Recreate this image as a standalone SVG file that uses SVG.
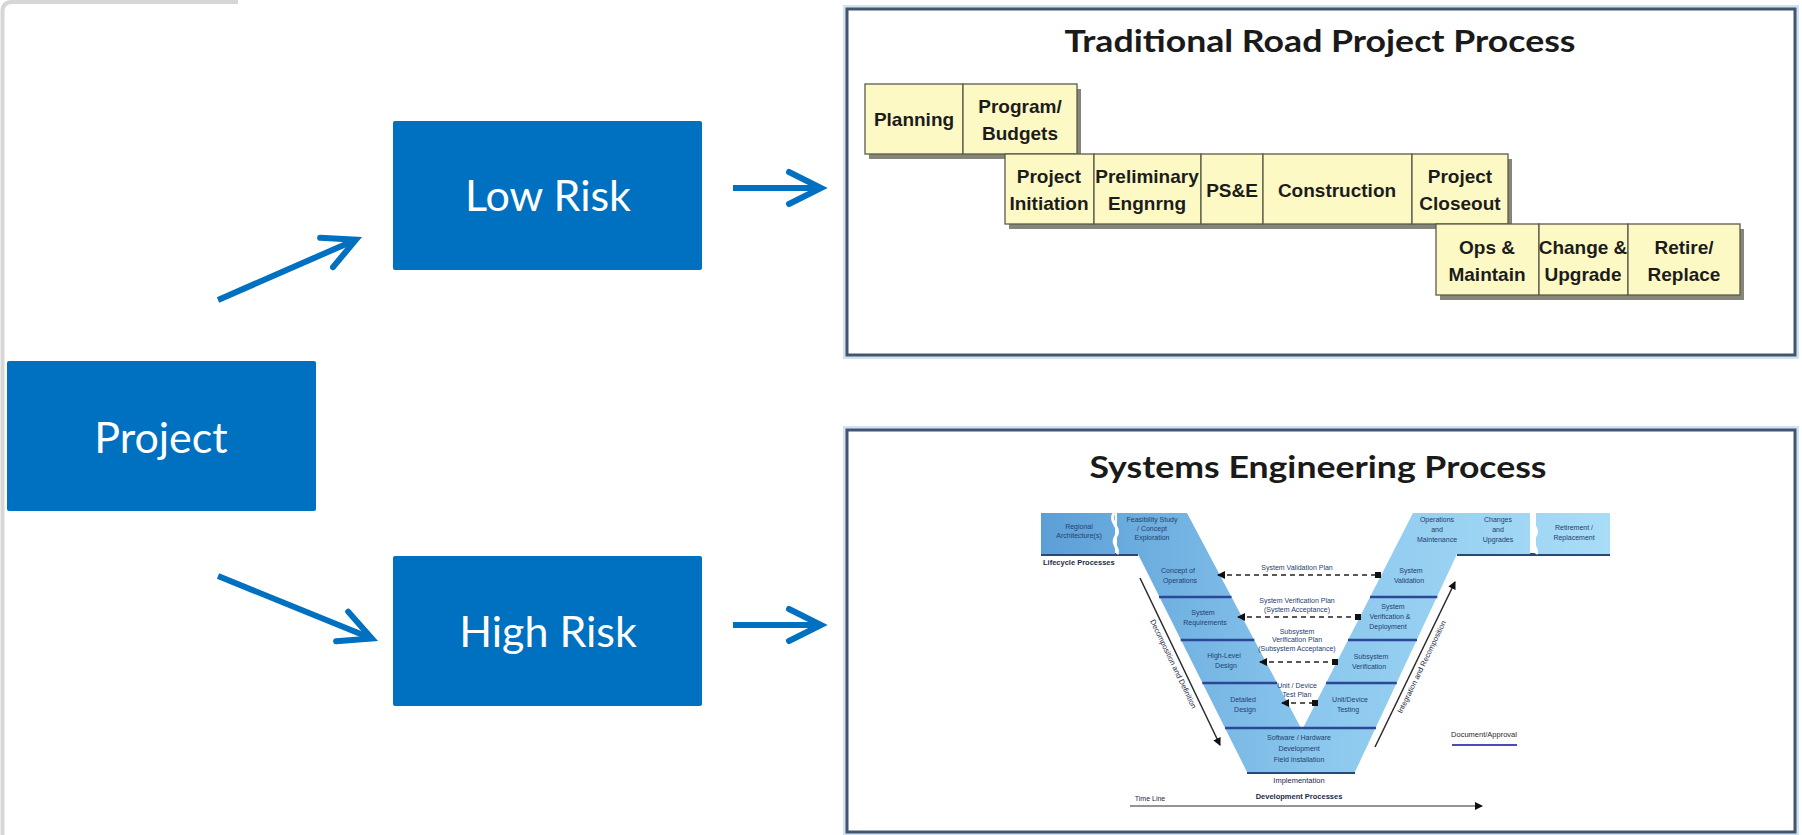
<svg xmlns="http://www.w3.org/2000/svg" width="1802" height="835" viewBox="0 0 1802 835">
<defs>
<style>
.blue{fill:#0070C0}
.lbl{font-family:Lato,"Open Sans",sans-serif;font-size:43px;fill:#ffffff;text-anchor:middle}
.conn{stroke:#0070C0;stroke-width:6;fill:none;marker-end:url(#chev)}
.panel{fill:#ffffff;stroke:#46556f;stroke-width:3}
.panelglow{fill:none;stroke:#cfe3f3;stroke-width:6}
.gbox{fill:#fcf9c4;stroke:#5b5b4c;stroke-width:1.3}
.gshadow{fill:#85857a}
.gt{font-family:"Liberation Sans",Arial,sans-serif;font-weight:bold;font-size:19px;fill:#1c1c1c;text-anchor:middle}
.title{font-family:Lato,"Open Sans",sans-serif;font-weight:bold;font-size:31px;fill:#1a1a1a;text-anchor:middle}
.vt{font-family:"Liberation Sans",Arial,sans-serif;font-size:7px;fill:#24406e;text-anchor:middle}
.vb{font-family:"Liberation Sans",Arial,sans-serif;font-size:7.5px;font-weight:bold;fill:#1c2a44}
.div{stroke:#2b4796;stroke-width:2.5}
.dash{stroke:#222222;stroke-width:1.4;stroke-dasharray:5 4;fill:none;marker-start:url(#sa);marker-end:url(#dot)}
.thin{stroke:#2a2a2a;stroke-width:1.5;fill:none;marker-end:url(#sa2)}
</style>
<marker id="chev" markerUnits="userSpaceOnUse" markerWidth="50" markerHeight="44" viewBox="0 0 50 44" refX="36" refY="20" orient="auto" overflow="visible">
<path d="M4,4 L36,20 L4,36" fill="none" stroke="#0070C0" stroke-width="6" stroke-linecap="round" stroke-linejoin="miter"/>
</marker>
<marker id="sa" markerUnits="userSpaceOnUse" markerWidth="8" markerHeight="8" viewBox="0 0 8 8" refX="1" refY="4" orient="auto">
<path d="M8,0 L0,4 L8,8 Z" fill="#111"/>
</marker>
<marker id="sa2" markerUnits="userSpaceOnUse" markerWidth="8" markerHeight="8" viewBox="0 0 8 8" refX="7" refY="4" orient="auto">
<path d="M0,0 L8,4 L0,8 Z" fill="#111"/>
</marker>
<marker id="dot" markerUnits="userSpaceOnUse" markerWidth="6" markerHeight="6" viewBox="0 0 6 6" refX="3" refY="3" orient="auto">
<rect x="0" y="0" width="6" height="6" fill="#111"/>
</marker>
<linearGradient id="vg" gradientUnits="userSpaceOnUse" x1="1040" y1="0" x2="1612" y2="0">
<stop offset="0" stop-color="#5b9fd7"/>
<stop offset="0.5" stop-color="#8cc8ee"/>
<stop offset="1" stop-color="#a9ddf6"/>
</linearGradient>
</defs>

<rect x="0" y="0" width="1802" height="835" fill="#ffffff"/>
<path d="M2.5,835 L2.5,12 Q2.5,2 12,2 L238,2" fill="none" stroke="#d6d6d6" stroke-width="4"/>

<g id="connectors">
<line class="conn" x1="218" y1="300" x2="355.9" y2="239.7"/>
<line class="conn" x1="218" y1="576" x2="371.8" y2="638.5"/>
<line class="conn" x1="733" y1="188" x2="821" y2="188"/>
<line class="conn" x1="733" y1="625" x2="821" y2="625"/>
</g>

<g id="project">
<rect class="blue" x="7" y="361" width="309" height="150" rx="2"/>
<text class="lbl" x="161" y="453">Project</text>
</g>
<g id="low-risk">
<rect class="blue" x="393" y="121" width="309" height="149" rx="2"/>
<text class="lbl" x="548" y="211">Low Risk</text>
</g>
<g id="high-risk">
<rect class="blue" x="393" y="556" width="309" height="150" rx="2"/>
<text class="lbl" x="548" y="647">High Risk</text>
</g>

<g id="traditional-process">
<rect class="panelglow" x="846" y="8" width="950" height="348"/>
<rect class="panel" x="847" y="9" width="948" height="346"/>
<text class="title" x="1320" y="52" textLength="511" lengthAdjust="spacingAndGlyphs">Traditional Road Project Process</text>
<rect class="gshadow" x="869" y="89" width="212" height="70"/>
<rect class="gshadow" x="1009" y="159" width="503" height="70"/>
<rect class="gshadow" x="1440" y="229" width="304" height="71"/>
<rect class="gbox" x="865" y="84" width="98" height="70"/>
<rect class="gbox" x="963" y="84" width="114" height="70"/>
<rect class="gbox" x="1005" y="154" width="89" height="70"/>
<rect class="gbox" x="1094" y="154" width="107" height="70"/>
<rect class="gbox" x="1201" y="154" width="62" height="70"/>
<rect class="gbox" x="1263" y="154" width="149" height="70"/>
<rect class="gbox" x="1412" y="154" width="96" height="70"/>
<rect class="gbox" x="1436" y="224" width="103" height="71"/>
<rect class="gbox" x="1539" y="224" width="89" height="71"/>
<rect class="gbox" x="1628" y="224" width="112" height="71"/>
<text class="gt" x="914" y="126">Planning</text>
<text class="gt" x="1020" y="113">Program/</text>
<text class="gt" x="1020" y="140">Budgets</text>
<text class="gt" x="1049" y="183">Project</text>
<text class="gt" x="1049" y="210">Initiation</text>
<text class="gt" x="1147" y="183">Preliminary</text>
<text class="gt" x="1147" y="210">Engnrng</text>
<text class="gt" x="1232" y="197">PS&amp;E</text>
<text class="gt" x="1337" y="197">Construction</text>
<text class="gt" x="1460" y="183">Project</text>
<text class="gt" x="1460" y="210">Closeout</text>
<text class="gt" x="1487" y="254">Ops &amp;</text>
<text class="gt" x="1487" y="281">Maintain</text>
<text class="gt" x="1583" y="254">Change &amp;</text>
<text class="gt" x="1583" y="281">Upgrade</text>
<text class="gt" x="1684" y="254">Retire/</text>
<text class="gt" x="1684" y="281">Replace</text>
</g>

<g id="systems-engineering">
<rect class="panelglow" x="846" y="429" width="950" height="405"/>
<rect class="panel" x="847" y="430" width="948" height="402"/>
<text class="title" x="1318" y="478" textLength="457" lengthAdjust="spacingAndGlyphs">Systems Engineering Process</text>

<rect x="1041" y="553" width="97" height="3" fill="#27487a"/>
<rect x="1457" y="553" width="153" height="3" fill="#27487a"/>
<rect x="1247" y="771" width="108" height="3" fill="#27487a"/>
<rect x="1041" y="513" width="74" height="41" fill="url(#vg)"/>
<path d="M1117,513 L1187,513 L1302,730 L1413,513 L1530,513 L1530,554 L1457,554 L1355,772 L1247,772 L1138,554 L1117,554 Z" fill="url(#vg)"/>
<rect x="1536" y="513" width="74" height="41" fill="url(#vg)"/>
<path d="M1114,513 C1108,522 1122,528 1116,536 C1110,544 1120,548 1117,554" fill="none" stroke="#ffffff" stroke-width="3"/>
<path d="M1533,513 C1527,522 1541,528 1535,536 C1529,544 1539,548 1536,554" fill="none" stroke="#ffffff" stroke-width="3"/>

<line class="div" x1="1159" y1="597" x2="1231.5" y2="597"/>
<line class="div" x1="1180.7" y1="640" x2="1254.3" y2="640"/>
<line class="div" x1="1202.3" y1="683" x2="1277.1" y2="683"/>
<line class="div" x1="1225" y1="728" x2="1376" y2="728"/>
<line class="div" x1="1370" y1="597" x2="1437.3" y2="597"/>
<line class="div" x1="1348" y1="640" x2="1417" y2="640"/>
<line class="div" x1="1326" y1="683" x2="1396.8" y2="683"/>

<text class="vt" x="1079" y="529">Regional<tspan x="1079" dy="9">Architecture(s)</tspan></text>
<text class="vt" x="1152" y="522">Feasibility Study<tspan x="1152" dy="9">/ Concept</tspan><tspan x="1152" dy="9">Exploration</tspan></text>
<text class="vt" x="1178" y="573">Concept of<tspan x="1180" dy="10">Operations</tspan></text>
<text class="vt" x="1203" y="615">System<tspan x="1205" dy="10">Requirements</tspan></text>
<text class="vt" x="1224" y="658">High-Level<tspan x="1226" dy="10">Design</tspan></text>
<text class="vt" x="1243" y="702">Detailed<tspan x="1245" dy="10">Design</tspan></text>
<text class="vt" x="1299" y="740">Software / Hardware<tspan x="1299" dy="11">Development</tspan><tspan x="1299" dy="11">Field Installation</tspan></text>
<text class="vt" x="1299" y="783" style="font-size:7.5px;fill:#1c2a44">Implementation</text>
<text class="vt" x="1437" y="522">Operations<tspan x="1437" dy="10">and</tspan><tspan x="1437" dy="10">Maintenance</tspan></text>
<text class="vt" x="1498" y="522">Changes<tspan x="1498" dy="10">and</tspan><tspan x="1498" dy="10">Upgrades</tspan></text>
<text class="vt" x="1574" y="530">Retirement /<tspan x="1574" dy="10">Replacement</tspan></text>
<text class="vt" x="1411" y="573">System<tspan x="1409" dy="10">Validation</tspan></text>
<text class="vt" x="1393" y="609">System<tspan x="1390" dy="10">Verification &amp;</tspan><tspan x="1388" dy="10">Deployment</tspan></text>
<text class="vt" x="1371" y="659">Subsystem<tspan x="1369" dy="10">Verification</tspan></text>
<text class="vt" x="1350" y="702">Unit/Device<tspan x="1348" dy="10">Testing</tspan></text>

<path class="dash" d="M1218,575 L1378,575"/>
<path class="dash" d="M1238,617 L1358,617"/>
<path class="dash" d="M1260,662 L1335,662"/>
<path class="dash" d="M1282,703 L1315,703"/>
<text class="vt" x="1297" y="570">System Validation Plan</text>
<text class="vt" x="1297" y="603">System Verification Plan<tspan x="1297" dy="9">(System Acceptance)</tspan></text>
<text class="vt" x="1297" y="634">Subsystem<tspan x="1297" dy="8">Verification Plan</tspan><tspan x="1297" dy="9">(Subsystem Acceptance)</tspan></text>
<text class="vt" x="1297" y="688">Unit / Device<tspan x="1297" dy="9">Test Plan</tspan></text>

<line class="thin" x1="1140" y1="578" x2="1220" y2="745"/>
<line class="thin" x1="1375" y1="747" x2="1455" y2="582"/>
<text class="vt" x="1171" y="665" transform="rotate(64.4 1171 665)" style="font-size:7.5px;fill:#1c2a44">Decomposition and Definition</text>
<text class="vt" x="1424" y="668" transform="rotate(-64.1 1424 668)" style="font-size:7.5px;fill:#1c2a44">Integration and Recomposition</text>

<text class="vb" x="1043" y="565">Lifecycle Processes</text>
<text class="vb" x="1299" y="799" text-anchor="middle">Development Processes</text>
<text class="vt" x="1150" y="801" style="fill:#1c2a44">Time Line</text>
<line class="thin" x1="1130" y1="806" x2="1482" y2="806" style="stroke-width:1.2"/>
<text class="vt" x="1484" y="737" style="font-size:7.5px;fill:#2a2a2a">Document/Approval</text>
<line x1="1452" y1="745" x2="1517" y2="745" stroke="#4a4ab8" stroke-width="2"/>
</g>
</svg>
